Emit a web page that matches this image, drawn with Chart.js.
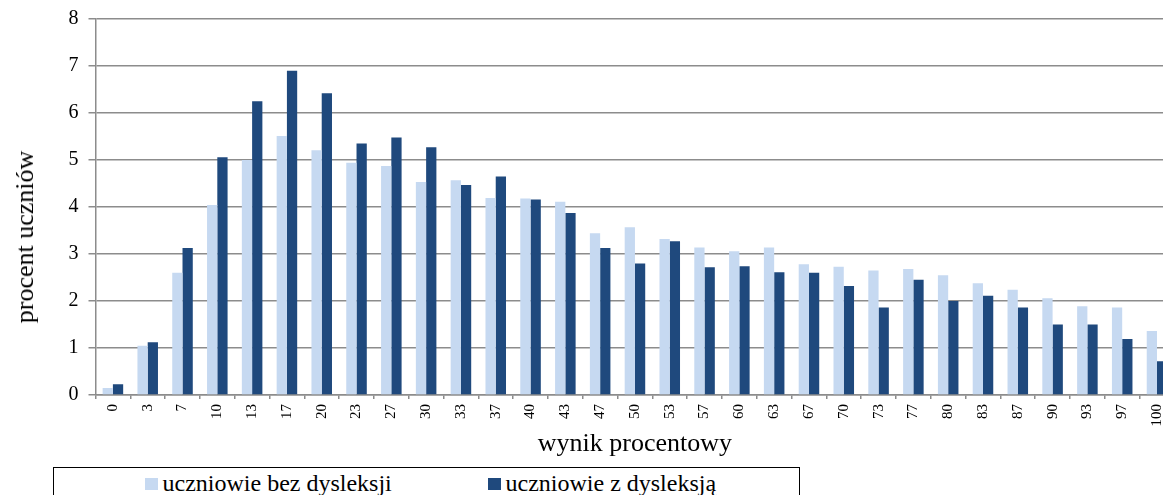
<!DOCTYPE html>
<html>
<head>
<meta charset="utf-8">
<script src="https://cdn.jsdelivr.net/npm/chart.js@4"></script>
<style>
  html, body { margin:0; padding:0; background:#fff; overflow:hidden; width:1163px; height:495px; }
  #wrap { position:relative; width:1163px; height:495px; overflow:hidden; }
  #chart { position:absolute; left:0; top:0; }
  .ytitle { position:absolute; left:25px; top:237px; transform:translate(-50%,-50%) rotate(-90deg);
    font:26px "Liberation Serif", serif; white-space:nowrap; color:#000; }
  #legend { position:absolute; left:53px; top:467px; width:747px; height:40px; border:1.5px solid #000; box-sizing:border-box; }
  .item { position:absolute; top:2px; font:24px "Liberation Serif", serif; color:#000; white-space:nowrap; }
  .item i { display:inline-block; width:12.5px; height:12.5px; margin-right:5px; vertical-align:1px; }
</style>
</head>
<body>
<div id="wrap">
  <canvas id="chart" width="1180" height="462"></canvas>
  <div class="ytitle">procent uczniów</div>
  <div id="legend"></div>
</div>
<script>
// wynik procentowy (kategorie osi X)
const categories = ["0","3","7","10","13","17","20","23","27","30","33","37","40","43","47","50",
  "53","57","60","63","67","70","73","77","80","83","87","90","93","97","100"];

const seriesNames = ["uczniowie bez dysleksji", "uczniowie z dysleksją"];
const seriesColors = ["#c6d9f1", "#1f497d"];

// procent uczniów
const bezDysleksji = [0.15,1.05,2.60,4.04,5.00,5.51,5.21,4.94,4.87,4.53,4.57,4.19,4.18,4.11,3.44,3.57,
  3.32,3.14,3.06,3.14,2.78,2.73,2.65,2.68,2.55,2.38,2.24,2.06,1.89,1.86,1.36];
const zDysleksja = [0.23,1.12,3.13,5.06,6.25,6.90,6.42,5.35,5.48,5.27,4.47,4.65,4.16,3.87,3.13,2.80,
  3.27,2.72,2.74,2.61,2.60,2.32,1.86,2.45,2.00,2.11,1.86,1.50,1.50,1.19,0.72];

const yTicks = [0,1,2,3,4,5,6,7,8];

const serif = "'Liberation Serif', 'Times New Roman', serif";
const gridGray = "#8c8c8c";

new Chart(document.getElementById("chart"), {
  type: "bar",
  data: {
    labels: categories,
    datasets: [
      {label: seriesNames[0], data: bezDysleksji, backgroundColor: seriesColors[0],
       categoryPercentage: 0.59, barPercentage: 1.0},
      {label: seriesNames[1], data: zDysleksja, backgroundColor: seriesColors[1],
       categoryPercentage: 0.59, barPercentage: 1.0}
    ]
  },
  options: {
    responsive: false,
    animation: false,
    layout: { padding: { top: 19, right: 0, bottom: 0, left: 0 } },
    plugins: { legend: { display: false }, tooltip: { enabled: false } },
    scales: {
      x: {
        grid: { drawOnChartArea: false, drawTicks: true, tickLength: 4, color: gridGray, lineWidth: 1.5, offset: true },
        border: { color: gridGray, width: 1.5 },
        ticks: { autoSkip: false, maxRotation: 90, minRotation: 90, padding: 5, color: "#000",
                 font: { family: serif, size: 15 } },
        title: { display: true, text: "wynik procentowy", color: "#000", padding: { top: 0, bottom: 2 },
                 font: { family: serif, size: 26 } },
        afterFit: s => { s.height = 67; }
      },
      y: {
        min: 0, max: 8,
        afterBuildTicks: s => { s.ticks = yTicks.map(v => ({value: v})); },
        grid: { color: gridGray, lineWidth: 1.5, tickLength: 7 },
        border: { color: gridGray, width: 1.5 },
        ticks: { padding: 10, color: "#000", font: { family: serif, size: 20 } },
        afterFit: s => { s.width = 95.5; s.paddingTop = 0; s.paddingBottom = 0; }
      }
    }
  }
});

// legenda w ramce
const legend = document.getElementById("legend");
const legendX = [91, 434];
seriesNames.forEach((name, i) => {
  const d = document.createElement("div");
  d.className = "item";
  d.style.left = legendX[i] + "px";
  d.innerHTML = `<i style="background:${seriesColors[i]}"></i>${name}`;
  legend.appendChild(d);
});
</script>
</body>
</html>
